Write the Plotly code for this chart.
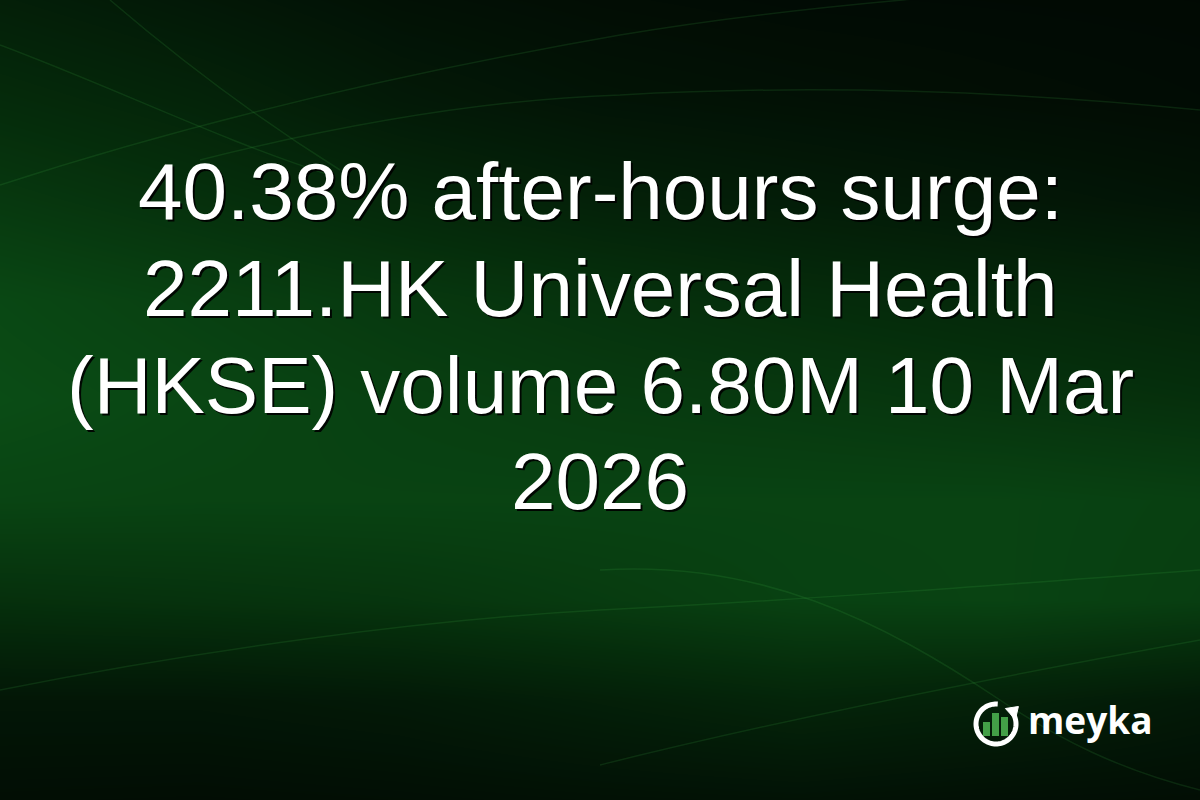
import numpy as np
import plotly.graph_objects as go

# ---- text content ----
title_lines = [
    "40.38% after-hours surge:",
    "2211.HK Universal Health",
    "(HKSE) volume 6.80M 10 Mar",
    "2026",
]
brand = "meyka"

# ---- background brightness (0 = darkest, 1 = brightest green) ----
bg_x = [0, 200, 400, 600, 800, 1000, 1200]
bg_y = [0, 100, 200, 300, 400, 500, 600, 700, 800]
bg_z = [
    [0.32, 0.22, 0.12, 0.07, 0.04, 0.03, 0.02],
    [0.48, 0.38, 0.24, 0.16, 0.12, 0.08, 0.05],
    [0.66, 0.55, 0.44, 0.34, 0.28, 0.22, 0.16],
    [0.86, 0.76, 0.66, 0.58, 0.50, 0.44, 0.38],
    [0.92, 0.84, 0.76, 0.70, 0.66, 0.60, 0.54],
    [0.82, 0.80, 0.80, 0.80, 0.80, 0.80, 0.76],
    [0.55, 0.58, 0.62, 0.70, 0.78, 0.80, 0.74],
    [0.20, 0.20, 0.24, 0.32, 0.40, 0.34, 0.24],
    [0.08, 0.07, 0.09, 0.12, 0.14, 0.10, 0.08],
]
bg_colors = [[0.0, "#010803"], [0.5, "#052c0b"], [1.0, "#0b5217"]]

W, H = 1200, 800
FONT = "Liberation Sans, Arial, sans-serif"
FS = 80
line_y = [191, 288, 385, 481]

fig = go.Figure()
fig.add_trace(go.Heatmap(
    x=bg_x, y=bg_y, z=bg_z, colorscale=bg_colors, zmin=0, zmax=1,
    zsmooth="best", showscale=False, hoverinfo="skip",
))

shapes = []
# soft light swooshes
swoosh = "rgba(70,190,80,0.14)"
paths = [
    "M 0 45 C 120 90, 220 140, 330 175",
    "M 110 0 C 180 60, 260 120, 340 170",
    "M 0 185 C 200 120, 420 70, 620 35 C 800 5, 1000 -10, 1200 -20",
    "M 200 160 C 320 130, 470 100, 620 95 C 800 85, 1000 90, 1200 110",
    "M 600 570 C 760 560, 880 620, 1000 700 C 1060 740, 1120 770, 1200 790",
    "M 600 765 C 780 720, 980 680, 1200 640",
    "M 0 690 C 200 650, 420 620, 600 610 C 800 600, 1000 585, 1200 570",
]
for p in paths:
    shapes.append(dict(type="path", path=p, xref="x", yref="y",
                       line=dict(color=swoosh, width=1.5), layer="above"))

# ---- logo ----
cx, cy, r = 996, 724, 20
ang = np.radians(np.linspace(85, 395, 80))
pts = [(cx + r * np.cos(a), cy - r * np.sin(a)) for a in ang]
ring = "M " + " L ".join(f"{px:.2f} {py:.2f}" for px, py in pts)
shapes.append(dict(type="path", path=ring, xref="x", yref="y",
                   line=dict(color="white", width=5)))
a0 = np.radians(35)
ax0, ay0 = cx + r * np.cos(a0), cy - r * np.sin(a0)
shapes.append(dict(type="path",
                   path=f"M {ax0-7:.1f} {ay0-4:.1f} L {ax0+6:.1f} {ay0-6:.1f} L {ax0+3:.1f} {ay0+7:.1f} Z",
                   xref="x", yref="y", fillcolor="white", line=dict(color="white", width=1)))
logo_bars = [(983, 990, 722), (992, 999, 713), (1001, 1008, 717)]
for x0, x1, top in logo_bars:
    shapes.append(dict(type="rect", x0=x0, x1=x1, y0=top, y1=736, xref="x", yref="y",
                       fillcolor="#43a047", line=dict(width=0)))

annotations = []
for txt, yy in zip(title_lines, line_y):
    annotations.append(dict(x=600, y=yy, xref="x", yref="y", text=txt, showarrow=False,
                            xanchor="center", yanchor="middle", xshift=2, yshift=-2,
                            font=dict(family=FONT, size=FS, color="rgba(0,0,0,0.9)")))
    annotations.append(dict(x=600, y=yy, xref="x", yref="y", text=txt, showarrow=False,
                            xanchor="center", yanchor="middle",
                            font=dict(family=FONT, size=FS, color="white")))
annotations.append(dict(x=1026, y=719, xref="x", yref="y", text=f"<b>{brand}</b>",
                        showarrow=False, xanchor="left", yanchor="middle",
                        font=dict(family="Open Sans, sans-serif", size=37, color="white")))

fig.update_layout(
    width=W, height=H, margin=dict(l=0, r=0, t=0, b=0),
    paper_bgcolor="#041a08", plot_bgcolor="#041a08",
    xaxis=dict(range=[0, W], visible=False, fixedrange=True),
    yaxis=dict(range=[H, 0], visible=False, fixedrange=True),
    shapes=shapes, annotations=annotations, showlegend=False,
)
fig.write_html("out.html", config={"displayModeBar": False},
               post_script="document.body.style.margin='0';document.body.style.overflow='hidden';")
